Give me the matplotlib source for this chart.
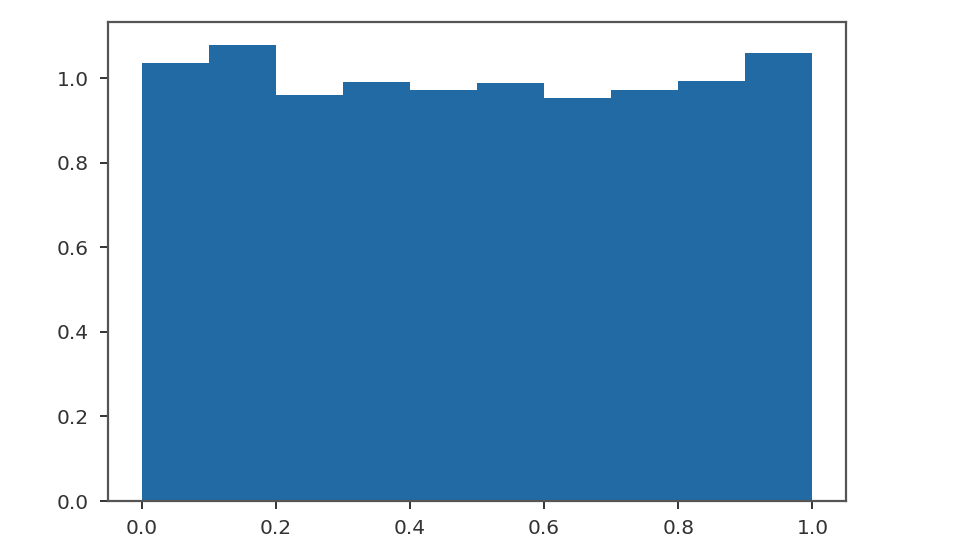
import numpy as np
from matplotlib import pyplot as plt

# density histogram, 10 bins on [0, 1]
bin_edges = [0.0, 0.1, 0.2, 0.3, 0.4, 0.5, 0.6, 0.7, 0.8, 0.9, 1.0]
density = [1.037, 1.079, 0.961, 0.990, 0.972, 0.988, 0.954, 0.972, 0.994, 1.060]

fig = plt.figure(figsize=(9.58, 5.57), dpi=100)
ax = fig.add_axes([0.1127, 0.1005, 0.7704, 0.86])

centers = (np.array(bin_edges[:-1]) + np.array(bin_edges[1:])) / 2
ax.hist(centers, bins=bin_edges, weights=density, color="#226aa3")

ax.set_xticks([0.0, 0.2, 0.4, 0.6, 0.8, 1.0])
ax.set_yticks([0.0, 0.2, 0.4, 0.6, 0.8, 1.0])
ax.tick_params(labelsize=14.5, length=6, width=1.4, colors="#333333")
ax.tick_params(axis="y", pad=8)
ax.tick_params(axis="x", pad=7)
for s in ax.spines.values():
    s.set_linewidth(1.6)
    s.set_color("#555555")

fig.savefig("out.png")
